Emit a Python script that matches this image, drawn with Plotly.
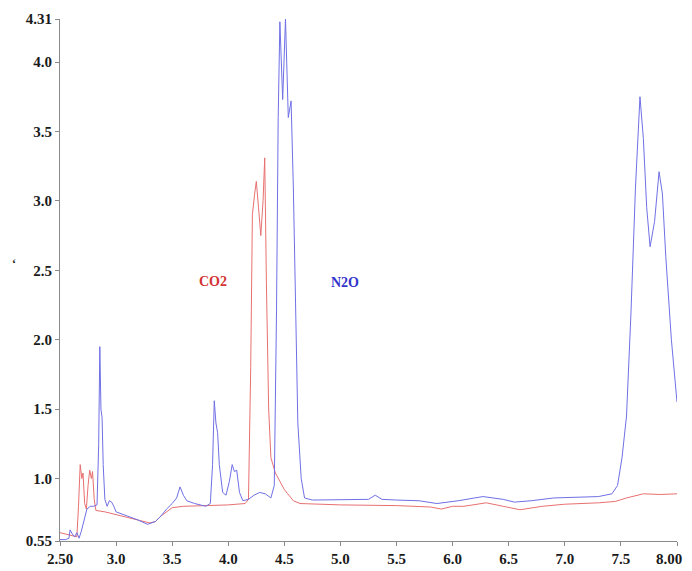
import plotly.graph_objects as go

# N2O (blue) trace
n2o_x = [2.50, 2.55, 2.58, 2.59, 2.61, 2.63, 2.65, 2.67, 2.69, 2.71, 2.74, 2.77, 2.80, 2.83,
         2.845, 2.855, 2.865, 2.875, 2.885, 2.90, 2.92, 2.94, 2.96, 2.98, 3.00, 3.10, 3.20,
         3.28, 3.35, 3.40, 3.45, 3.50, 3.54, 3.57, 3.60, 3.63, 3.70, 3.80, 3.84, 3.86, 3.875,
         3.89, 3.905, 3.92, 3.95, 3.98, 4.01, 4.035, 4.055, 4.075, 4.10, 4.13, 4.18, 4.23,
         4.28, 4.33, 4.38, 4.41, 4.43, 4.445, 4.46, 4.485, 4.51, 4.535, 4.56, 4.58, 4.60,
         4.62, 4.65, 4.68, 4.75, 5.0, 5.25, 5.31, 5.37, 5.5, 5.7, 5.86, 5.95, 6.05, 6.27,
         6.45, 6.55, 6.7, 6.9, 7.1, 7.3, 7.42, 7.47, 7.51, 7.55, 7.59, 7.63, 7.67, 7.70,
         7.73, 7.76, 7.80, 7.84, 7.87, 7.90, 7.95, 8.00]
n2o_y = [0.56, 0.56, 0.57, 0.63, 0.60, 0.58, 0.61, 0.57, 0.62, 0.68, 0.78, 0.80, 0.80, 0.81,
         1.25, 1.95, 1.50, 1.44, 1.10, 0.85, 0.80, 0.84, 0.83, 0.80, 0.76, 0.73, 0.70,
         0.67, 0.69, 0.73, 0.78, 0.82, 0.86, 0.94, 0.88, 0.84, 0.82, 0.80, 0.82, 1.10, 1.56,
         1.40, 1.33, 1.10, 0.90, 0.88, 0.98, 1.10, 1.05, 1.06, 0.90, 0.84, 0.85, 0.88,
         0.90, 0.89, 0.86, 0.95, 2.20, 3.60, 4.29, 3.73, 4.31, 3.60, 3.72, 3.10, 2.10,
         1.40, 1.00, 0.86, 0.845, 0.845, 0.85, 0.88, 0.85, 0.845, 0.84, 0.82, 0.83, 0.84, 0.87,
         0.85, 0.83, 0.84, 0.86, 0.865, 0.87, 0.89, 0.95, 1.15, 1.45, 2.20, 3.10, 3.75, 3.45,
         2.95, 2.67, 2.85, 3.21, 3.05, 2.60, 2.00, 1.55]

# CO2 (red) trace
co2_x = [2.50, 2.55, 2.60, 2.65, 2.665, 2.68, 2.695, 2.705, 2.72, 2.735, 2.75, 2.765, 2.78,
         2.79, 2.805, 2.82, 2.90, 3.00, 3.10, 3.20, 3.30, 3.35, 3.40, 3.50, 3.60, 3.80, 4.00,
         4.15, 4.18, 4.20, 4.215, 4.235, 4.25, 4.27, 4.29, 4.31, 4.325, 4.34, 4.36, 4.38,
         4.42, 4.46, 4.50, 4.53, 4.58, 4.64, 4.80, 5.00, 5.50, 5.80, 5.90, 6.00, 6.10, 6.30,
         6.45, 6.60, 6.80, 7.00, 7.30, 7.45, 7.55, 7.70, 7.85, 8.00]
co2_y = [0.61, 0.60, 0.59, 0.58, 0.80, 1.10, 1.00, 1.04, 0.82, 0.78, 0.95, 1.06, 1.00,
         1.05, 0.85, 0.77, 0.76, 0.74, 0.72, 0.70, 0.68, 0.69, 0.73, 0.79, 0.80, 0.805, 0.81,
         0.82, 0.85, 1.80, 2.90, 3.05, 3.14, 2.95, 2.75, 3.00, 3.31, 2.40, 1.50, 1.15,
         1.04, 0.98, 0.92, 0.89, 0.84, 0.82, 0.815, 0.81, 0.805, 0.795, 0.78, 0.80, 0.80, 0.825,
         0.80, 0.775, 0.80, 0.815, 0.825, 0.835, 0.86, 0.89, 0.885, 0.89]

x_tickvals = [2.5, 3.0, 3.5, 4.0, 4.5, 5.0, 5.5, 6.0, 6.5, 7.0, 7.5, 8.0]
x_ticktext = ["2.50", "3.0", "3.5", "4.0", "4.5", "5.0", "5.5", "6.0", "6.5", "7.0", "7.5", ""]
x_last_label = "8.00"
y_tickvals = [0.55, 1.0, 1.5, 2.0, 2.5, 3.0, 3.5, 4.0, 4.31]
y_ticktext = ["0.55", "1.0", "1.5", "2.0", "2.5", "3.0", "3.5", "4.0", "4.31"]

fig = go.Figure()
fig.add_trace(go.Scatter(x=co2_x, y=co2_y, mode="lines", name="CO2",
                         line=dict(color="#e87070", width=1)))
fig.add_trace(go.Scatter(x=n2o_x, y=n2o_y, mode="lines", name="N2O",
                         line=dict(color="#7070e6", width=1)))

font_tick = dict(family="Liberation Serif", size=15, color="#1a1a1a", weight="bold")
axis_common = dict(showline=True, linecolor="#8a8a8a", linewidth=1, ticks="outside",
                   ticklen=4, tickcolor="#8a8a8a", showgrid=False, zeroline=False,
                   tickfont=font_tick, automargin=False)

# page body has an 8px margin, so the figure is sized/offset to fit the window
fig.update_layout(
    width=676, height=563,
    margin=dict(l=52, r=7, t=11, b=30),
    paper_bgcolor="white", plot_bgcolor="white",
    showlegend=False,
    xaxis=dict(range=[2.5, 8.0], tickvals=x_tickvals, ticktext=x_ticktext, **axis_common),
    yaxis=dict(range=[0.55, 4.31], tickvals=y_tickvals, ticktext=y_ticktext, **axis_common),
    annotations=[
        dict(x=3.86, y=2.42, xref="x", yref="y", text="<b>CO2</b>", showarrow=False,
             font=dict(family="Liberation Serif", size=14, color="#d43333")),
        dict(x=5.04, y=2.41, xref="x", yref="y", text="<b>N2O</b>", showarrow=False,
             font=dict(family="Liberation Serif", size=14, color="#3333cc")),
        dict(x=-0.081, y=0.53, xref="paper", yref="paper", text="<b>‘</b>", showarrow=False,
             font=dict(family="Liberation Serif", size=12, color="#222222")),
        dict(x=1.0, y=0, xref="paper", yref="paper", text="<b>" + x_last_label + "</b>",
             showarrow=False, xanchor="right", yanchor="top", xshift=7, yshift=-8,
             font=dict(family="Liberation Serif", size=15, color="#1a1a1a")),
    ],
)

fig.write_html("out.html")
